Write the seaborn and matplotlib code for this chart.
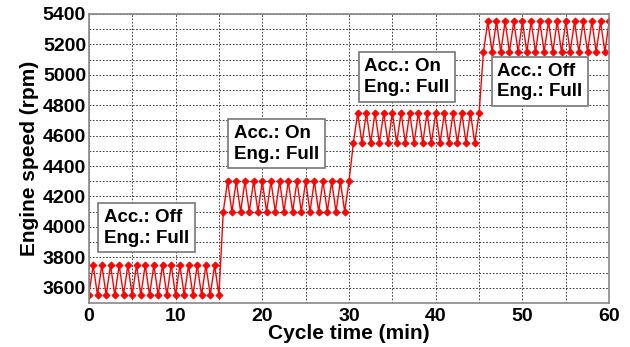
# Engine speed vs cycle time, zigzag steps
import numpy as np
import pandas as pd
import matplotlib
matplotlib.use("Agg")
import matplotlib.pyplot as plt
import seaborn as sns

# -----------------------------------
# Data
time_1 = [0, 0.5, 1, 1.5, 2, 2.5, 3, 3.5, 4, 4.5, 5, 5.5, 6, 6.5, 7, 7.5,
          8, 8.5, 9, 9.5, 10, 10.5, 11, 11.5, 12, 12.5, 13, 13.5, 14, 14.5, 15]
speed_1 = [3550, 3750, 3550, 3750, 3550, 3750, 3550, 3750, 3550, 3750, 3550,
           3750, 3550, 3750, 3550, 3750, 3550, 3750, 3550, 3750, 3550, 3750,
           3550, 3750, 3550, 3750, 3550, 3750, 3550, 3750, 3550]

time_2 = [15.5, 16, 16.5, 17, 17.5, 18, 18.5, 19, 19.5, 20, 20.5, 21, 21.5, 22,
          22.5, 23, 23.5, 24, 24.5, 25, 25.5, 26, 26.5, 27, 27.5, 28, 28.5, 29,
          29.5, 30]
speed_2 = [4100, 4300, 4100, 4300, 4100, 4300, 4100, 4300, 4100, 4300,
           4100, 4300, 4100, 4300, 4100, 4300, 4100, 4300, 4100, 4300,
           4100, 4300, 4100, 4300, 4100, 4300, 4100, 4300, 4100, 4300]

time_3 = [30.5, 31, 31.5, 32, 32.5, 33, 33.5, 34, 34.5, 35, 35.5, 36, 36.5, 37,
          37.5, 38, 38.5, 39, 39.5, 40, 40.5, 41, 41.5, 42, 42.5, 43, 43.5, 44,
          44.5, 45]
speed_3 = [4550, 4750, 4550, 4750, 4550, 4750, 4550, 4750, 4550, 4750,
           4550, 4750, 4550, 4750, 4550, 4750, 4550, 4750, 4550, 4750,
           4550, 4750, 4550, 4750, 4550, 4750, 4550, 4750, 4550, 4750]

time_4 = [45.5, 46, 46.5, 47, 47.5, 48, 48.5, 49, 49.5, 50, 50.5, 51, 51.5, 52,
          52.5, 53, 53.5, 54, 54.5, 55, 55.5, 56, 56.5, 57, 57.5, 58, 58.5, 59,
          59.5, 60]
speed_4 = [5150, 5350, 5150, 5350, 5150, 5350, 5150, 5350, 5150, 5350,
           5150, 5350, 5150, 5350, 5150, 5350, 5150, 5350, 5150, 5350,
           5150, 5350, 5150, 5350, 5150, 5350, 5150, 5350, 5150, 5350]

box_labels = ["Acc.: Off\nEng.: Full", "Acc.: On\nEng.: Full",
              "Acc.: On\nEng.: Full", "Acc.: Off\nEng.: Full"]
box_x = [1.75, 16.75, 31.75, 47.1]
box_y = [4120, 4670, 5110, 5080]

df = pd.DataFrame({
    "time": time_1 + time_2 + time_3 + time_4,
    "speed": speed_1 + speed_2 + speed_3 + speed_4,
})

# -----------------------------------
# Plot
sns.set_style("white")
plt.rcParams["font.family"] = ["Liberation Sans", "DejaVu Sans"]
plt.rcParams["font.weight"] = "bold"

fig = plt.figure(figsize=(6.3, 3.47), dpi=100)
ax = fig.add_axes([0.141, 0.127, 0.826, 0.833])

sns.lineplot(data=df, x="time", y="speed", ax=ax, color="red", lw=1,
             marker="D", markersize=3.5, markeredgecolor="red",
             estimator=None, sort=False)

ax.set_xlim(0, 60)
ax.set_ylim(3500, 5400)
ax.set_xticks(np.arange(0, 61, 10))
ax.set_xticks(np.arange(0, 61, 5), minor=True)
ax.set_yticks(np.arange(3600, 5401, 200))
ax.set_yticks(np.arange(3500, 5401, 100), minor=True)
ax.grid(True, which="both", ls=(0, (2, 2)), color="#222222", lw=0.6)
ax.tick_params(axis="both", which="both", labelsize=14, length=0,
               labelcolor="black")
ax.tick_params(axis="x", which="both", direction="out", length=3,
               color="#666666", pad=1)
ax.tick_params(axis="y", pad=2)
for lab in ax.get_xticklabels() + ax.get_yticklabels():
    lab.set_fontweight("bold")

for s in ax.spines.values():
    s.set_color("#888888")
    s.set_linewidth(1.2)

ax.set_xlabel("Cycle time (min)", fontsize=15, fontweight="bold",
              labelpad=-1, color="black")
ax.set_ylabel("Engine speed (rpm)", fontsize=15, fontweight="bold",
              labelpad=3, color="black")

for lab, bx, by in zip(box_labels, box_x, box_y):
    ax.text(bx, by, lab, fontsize=13.5, fontweight="bold", va="top", ha="left",
            linespacing=1.3, color="black",
            bbox=dict(boxstyle="square,pad=0.3", fc="white", ec="#777777", lw=1.2))

plt.savefig("out.png", dpi=100)
